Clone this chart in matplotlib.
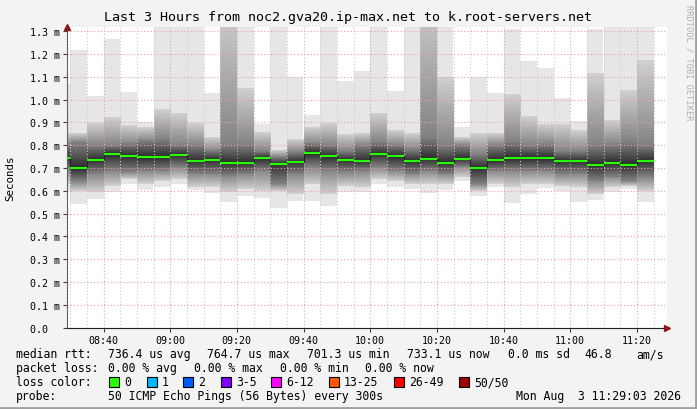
import numpy as np
import pandas as pd
import matplotlib
matplotlib.use("Agg")
import matplotlib.pyplot as plt
import matplotlib.dates as mdates
from matplotlib.patches import Rectangle
from matplotlib.colors import LinearSegmentedColormap
from matplotlib.ticker import MultipleLocator, FuncFormatter

# 5-minute rounds, first one starts at 08:25 (partly outside the window)
bar_start = pd.date_range("2026-08-03 08:25", periods=36, freq="5min")

# rtt in ms: outer extent, mid band, dark core, median
ping_max = [1.07, 1.218, 1.016, 1.266, 1.032, 0.901, 1.35, 1.35, 1.35, 1.029,
            1.40, 1.35, 0.893, 1.35, 1.098, 0.934, 1.35, 1.083, 1.127, 1.35,
            1.04, 1.35, 1.45, 1.40, 0.882, 1.098, 1.029, 1.31, 1.171, 1.139,
            1.007, 0.905, 1.31, 1.33, 1.40, 1.33]
mid_hi = [0.85, 0.85, 0.893, 0.92, 0.886, 0.879, 0.955, 0.937, 0.893, 0.835,
          1.40, 1.05, 0.857, 0.776, 0.827, 0.879, 0.893, 0.85, 0.85, 0.937,
          0.864, 0.85, 1.45, 1.098, 0.835, 0.85, 0.85, 1.025, 0.923, 0.893,
          0.893, 0.864, 1.113, 0.908, 1.04, 1.171]
core_hi = [0.80, 0.813, 0.80, 0.80, 0.806, 0.82, 0.827, 0.80, 0.80, 0.776,
           0.806, 0.806, 0.776, 0.747, 0.77, 0.806, 0.80, 0.776, 0.80, 0.813,
           0.80, 0.784, 0.835, 0.80, 0.80, 0.762, 0.80, 0.82, 0.80, 0.806,
           0.776, 0.776, 0.80, 0.806, 0.82, 0.80]
median = [0.745, 0.701, 0.736, 0.762, 0.753, 0.749, 0.749, 0.759, 0.733, 0.736,
          0.724, 0.724, 0.746, 0.720, 0.728, 0.765, 0.754, 0.737, 0.733, 0.763,
          0.753, 0.733, 0.742, 0.724, 0.742, 0.701, 0.737, 0.746, 0.746, 0.746,
          0.733, 0.733, 0.715, 0.724, 0.715, 0.733]
core_lo = [0.69, 0.644, 0.674, 0.689, 0.682, 0.689, 0.689, 0.704, 0.674, 0.674,
           0.666, 0.674, 0.689, 0.63, 0.674, 0.704, 0.689, 0.682, 0.689, 0.704,
           0.689, 0.674, 0.689, 0.674, 0.704, 0.63, 0.689, 0.689, 0.689, 0.689,
           0.674, 0.674, 0.644, 0.659, 0.644, 0.659]
mid_lo = [0.63, 0.601, 0.594, 0.623, 0.652, 0.630, 0.644, 0.652, 0.615, 0.615,
          0.594, 0.608, 0.601, 0.60, 0.586, 0.630, 0.586, 0.623, 0.615, 0.652,
          0.644, 0.630, 0.630, 0.630, 0.659, 0.601, 0.630, 0.615, 0.630, 0.630,
          0.623, 0.615, 0.586, 0.615, 0.623, 0.601]
ping_min = [0.60, 0.543, 0.565, 0.597, 0.630, 0.604, 0.618, 0.630, 0.604, 0.590,
            0.553, 0.579, 0.569, 0.523, 0.554, 0.557, 0.535, 0.594, 0.594, 0.630,
            0.617, 0.608, 0.590, 0.604, 0.644, 0.579, 0.615, 0.546, 0.587, 0.611,
            0.601, 0.553, 0.561, 0.594, 0.608, 0.553]

loss_labels = ["0", "1", "2", "3-5", "6-12", "13-25", "26-49", "50/50"]
loss_colors = ["#26ff00", "#00b8ff", "#0059ff", "#7e00ff", "#ff00ff",
               "#ff5500", "#ff0000", "#a10000"]

W, H = 697, 410
MONO = "DejaVu Sans Mono"

fig = plt.figure(figsize=(W / 100, H / 100), dpi=100, facecolor="#f3f3f3")
ax = fig.add_axes([67 / W, (H - 328.7) / H, 600 / W, 301 / H])
ax.set_facecolor("white")

x0 = mdates.date2num(bar_start)
width = 5 / 1440
median = np.array(median)

# smoke shading: 0 = palest outer pings, 1 = darkest next to the median
smoke = LinearSegmentedColormap.from_list("smoke", ["#e6e6e6", "#d0d0d0",
                                                    "#8c8c8c", "#2c2c2c"])
SHADE_MID, SHADE_CORE, SHADE_MED = 0.33, 0.7, 1.0


def shade(x, y_from, y_to, s_from, s_to):
    if y_to == y_from:
        return
    g = np.linspace(s_from, s_to, 64)[:, None]
    lo, hi = (y_from, y_to) if y_to > y_from else (y_to, y_from)
    if y_to < y_from:
        g = g[::-1]
    ax.imshow(g, extent=[x, x + width, lo, hi], origin="lower", cmap=smoke,
              vmin=0, vmax=1, aspect="auto", interpolation="bilinear", zorder=1)


ax.bar(x0, np.array(ping_max) - np.array(ping_min), bottom=ping_min,
       width=width, align="edge", color="#e6e6e6", lw=0, zorder=1)
for i, x in enumerate(x0):
    shade(x, core_hi[i], mid_hi[i], SHADE_CORE, SHADE_MID)
    shade(x, core_lo[i], mid_lo[i], SHADE_CORE, SHADE_MID)
    shade(x, median[i], core_hi[i], SHADE_MED, SHADE_CORE)
    shade(x, median[i], core_lo[i], SHADE_MED, SHADE_CORE)

# median line: green steps, dark risers
ax.hlines(median, x0, x0 + width, colors=loss_colors[0], lw=1.5, zorder=4)
ax.vlines(x0[1:], median[:-1], median[1:], colors="#202020", lw=0.8, zorder=3)

ax.set_aspect("auto")
ax.set_xlim(mdates.date2num(pd.Timestamp("2026-08-03 08:29:03")),
            mdates.date2num(pd.Timestamp("2026-08-03 11:29:03")))
ax.set_ylim(0, 1.32)

ax.xaxis.set_major_locator(mdates.MinuteLocator(byminute=[0, 20, 40]))
ax.xaxis.set_minor_locator(mdates.MinuteLocator(byminute=range(0, 60, 5)))
ax.xaxis.set_major_formatter(mdates.DateFormatter("%H:%M"))
ax.yaxis.set_major_locator(MultipleLocator(0.1))
ax.yaxis.set_major_formatter(FuncFormatter(
    lambda v, p: "0.0  " if abs(v) < 1e-9 else f"{v:.1f} m"))

ax.set_axisbelow(False)
dots = (0, (1, 2))
ax.grid(which="minor", axis="x", color="#cccccc", ls=dots, lw=0.8)
ax.grid(which="major", axis="x", color="#eaa0a0", ls=dots, lw=0.8)
ax.grid(which="major", axis="y", color="#eaa0a0", ls=dots, lw=0.8)

for s in ("top", "right"):
    ax.spines[s].set_visible(False)
ax.spines["left"].set_color("#606060")
ax.spines["bottom"].set_color("#202020")
ax.tick_params(which="major", length=3, width=0.8, color="#404040",
               labelsize=7.2, pad=2)
ax.tick_params(which="minor", length=0)
for lab in ax.get_xticklabels() + ax.get_yticklabels():
    lab.set_family(MONO)

# axis arrows
ax.plot([0], [1.0], marker="^", color="#8b1a1a", ms=4, transform=ax.transAxes,
        clip_on=False, zorder=6)
ax.plot([1.0], [0], marker=">", color="#8b1a1a", ms=4, transform=ax.transAxes,
        clip_on=False, zorder=6)


def ftext(x, y, s, **kw):
    kw.setdefault("family", MONO)
    kw.setdefault("fontsize", 8.3)
    kw.setdefault("va", "center")
    fig.text(x / W, 1 - y / H, s, **kw)


ftext(348, 18, "Last 3 Hours from noc2.gva20.ip-max.net to k.root-servers.net",
      ha="center", fontsize=9.6)
ftext(10, 178, "Seconds", rotation=90, ha="center", fontsize=7.8)
ftext(689, 5, "RRDTOOL / TOBI OETIKER", rotation=270, ha="center", va="top",
      fontsize=6.2, color="#b0b0b0")

ftext(16, 355, "median rtt:")
for x, s in [(108, "736.4 us avg"), (207, "764.7 us max"), (307, "701.3 us min"),
             (407, "733.1 us now"), (508, "0.0 ms sd"), (584, "46.8"),
             (636, "am/s")]:
    ftext(x, 355, s)
ftext(16, 369, "packet loss:")
for x, s in [(108, "0.00 % avg"), (194, "0.00 % max"), (280, "0.00 % min"),
             (365, "0.00 % now")]:
    ftext(x, 369, s)
ftext(16, 383, "loss color:")
box_x = [109, 147, 183, 221, 271, 329, 394, 459]
for bx, lab, col in zip(box_x, loss_labels, loss_colors):
    fig.add_artist(Rectangle((bx / W, 1 - 388 / H), 10 / W, 10 / H,
                             transform=fig.transFigure, facecolor=col,
                             edgecolor="black", lw=0.8))
    ftext(bx + 15, 383, lab)
ftext(16, 397, "probe:")
ftext(108, 397, "50 ICMP Echo Pings (56 Bytes) every 300s")
ftext(681, 397, "Mon Aug  3 11:29:03 2026", ha="right")

# frame shadow on right and bottom
fig.add_artist(plt.Line2D([695.5 / W, 695.5 / W], [0, 1], color="#a0a0a0",
                          lw=2, transform=fig.transFigure))
fig.add_artist(plt.Line2D([0, 1], [1.5 / H, 1.5 / H], color="#a0a0a0",
                          lw=2, transform=fig.transFigure))

fig.savefig("out.png", dpi=100, facecolor=fig.get_facecolor())
